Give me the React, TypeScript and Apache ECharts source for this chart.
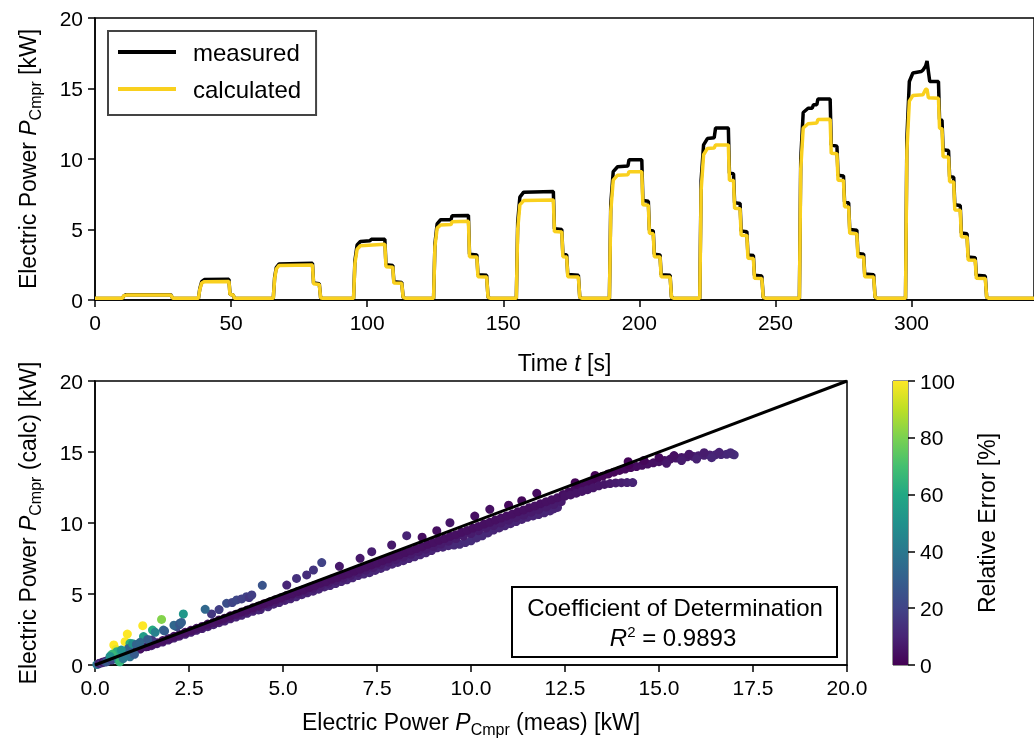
import React, { useEffect, useRef } from "react";
import * as echarts from "echarts";

const FONT = "'Liberation Sans', Arial, Helvetica, sans-serif";

// Time series: [time s, power kW]
const measured: [number, number][] = [
  [0, 0.1], [10, 0.1], [10.6, 0.3], [11.5, 0.38], [27.8, 0.38], [28.6, 0.1],
  [38, 0.1], [38.5, 0.8], [39.2, 1.3], [40.2, 1.45], [49.2, 1.47], [49.6, 0.4], [50.8, 0.35], [51.2, 0.1],
  [65.5, 0.1], [66.0, 1.6], [66.6, 2.3], [67.6, 2.55], [79.9, 2.6], [80.3, 1.2], [82.4, 1.15], [82.9, 0.15], [83.6, 0.1],
  [95, 0.1], [95.5, 2.8], [96.3, 3.9], [97.5, 4.15], [101, 4.2], [101.5, 4.3], [106.5, 4.3], [106.9, 2.5], [109.4, 2.45], [109.8, 1.3], [112.7, 1.25], [113.2, 0.2], [114, 0.1],
  [124.4, 0.1], [124.9, 4.0], [125.7, 5.4], [127, 5.7], [130.8, 5.7], [131.2, 5.98], [137.2, 6.0], [137.6, 3.25], [140.3, 3.2], [140.7, 1.8], [143.9, 1.75], [144.4, 0.2], [145.2, 0.1],
  [154.8, 0.1], [155.3, 5.5], [156.1, 7.3], [157.5, 7.65], [168.4, 7.7], [168.8, 5.05], [171.5, 5.0], [171.9, 3.25], [173.3, 3.2], [173.7, 1.8], [177.6, 1.75], [178.1, 0.2], [178.9, 0.1],
  [189, 0.1], [189.5, 6.8], [190.4, 9.1], [192, 9.45], [195.8, 9.5], [196.2, 9.95], [200.9, 9.95], [201.3, 7.05], [203.3, 7.0], [203.7, 4.95], [205.1, 4.9], [205.5, 3.25], [207.6, 3.2], [208, 1.8], [211.3, 1.75], [211.8, 0.2], [212.6, 0.1],
  [222.2, 0.1], [222.7, 8.5], [223.6, 11.0], [225, 11.45], [227.5, 11.5], [228, 12.2], [232.7, 12.2], [233.1, 9.0], [234.6, 8.95], [235, 6.9], [237, 6.85], [237.4, 4.9], [239.5, 4.85], [239.9, 3.2], [241.9, 3.15], [242.3, 1.75], [245, 1.7], [245.5, 0.2], [246.3, 0.1],
  [258.8, 0.1], [259.3, 10], [260.2, 13.3], [262, 13.6], [263.5, 13.6], [264, 13.85], [265.2, 13.85], [265.6, 14.25], [270.1, 14.25], [270.5, 11.0], [272.6, 10.9], [273, 8.85], [275, 8.8], [275.4, 6.95], [276.9, 6.9], [277.3, 5.0], [279.9, 4.95], [280.3, 3.3], [282.4, 3.25], [282.8, 1.85], [286.1, 1.8], [286.6, 0.2], [287.6, 0.1],
  [297.8, 0.1], [298.3, 11.5], [299.2, 15.5], [300.5, 16.1], [303.5, 16.2], [304.2, 16.3], [305.2, 16.6], [305.7, 16.95], [306.2, 16.2], [306.7, 15.5], [309.9, 15.5], [310.3, 12.8], [311.2, 12.75], [311.6, 10.65], [313.6, 10.6], [314, 8.75], [315.5, 8.7], [315.9, 6.75], [317.9, 6.7], [318.3, 4.75], [320.4, 4.7], [320.8, 3.05], [323.4, 3.0], [323.8, 1.75], [327.1, 1.7], [327.6, 0.2], [328.5, 0.1], [345, 0.1],
];

const calculated: [number, number][] = [
  [0, 0.12], [10, 0.12], [10.6, 0.3], [11.5, 0.35], [27.8, 0.35], [28.6, 0.12],
  [38, 0.12], [38.5, 0.75], [39.2, 1.2], [40.2, 1.3], [49.2, 1.32], [49.6, 0.4], [50.8, 0.35], [51.2, 0.12],
  [65.5, 0.12], [66.0, 1.5], [66.6, 2.2], [67.6, 2.45], [79.9, 2.48], [80.3, 1.15], [82.4, 1.1], [82.9, 0.15], [83.6, 0.12],
  [95, 0.12], [95.5, 2.6], [96.3, 3.6], [97.5, 3.85], [106.5, 3.95], [106.9, 2.36], [109.4, 2.33], [109.8, 1.2], [112.7, 1.18], [113.2, 0.2], [114, 0.12],
  [124.4, 0.12], [124.9, 3.8], [125.7, 5.1], [127, 5.32], [130.8, 5.35], [131.2, 5.55], [137.2, 5.58], [137.6, 3.07], [140.3, 3.05], [140.7, 1.65], [143.9, 1.63], [144.4, 0.2], [145.2, 0.12],
  [154.8, 0.12], [155.3, 5.0], [156.1, 6.75], [157.5, 7.05], [168.4, 7.1], [168.8, 4.85], [171.5, 4.83], [171.9, 3.07], [173.3, 3.05], [173.7, 1.65], [177.6, 1.63], [178.1, 0.2], [178.9, 0.12],
  [189, 0.12], [189.5, 6.3], [190.4, 8.5], [192, 8.85], [195.8, 8.88], [196.2, 9.1], [200.9, 9.1], [201.3, 6.75], [203.3, 6.72], [203.7, 4.73], [205.1, 4.7], [205.5, 3.07], [207.6, 3.05], [208, 1.65], [211.3, 1.63], [211.8, 0.2], [212.6, 0.12],
  [222.2, 0.12], [222.7, 7.8], [223.6, 10.3], [225, 10.75], [227.5, 10.78], [228, 11.0], [232.7, 11.0], [233.1, 8.5], [234.6, 8.48], [235, 6.5], [237, 6.48], [237.4, 4.6], [239.5, 4.58], [239.9, 2.96], [241.9, 2.94], [242.3, 1.54], [245, 1.52], [245.5, 0.2], [246.3, 0.12],
  [258.8, 0.12], [259.3, 9.3], [260.2, 12.2], [262, 12.5], [265.2, 12.55], [265.6, 12.8], [270.1, 12.82], [270.5, 10.4], [272.6, 10.38], [273, 8.5], [275, 8.48], [275.4, 6.62], [276.9, 6.6], [277.3, 4.73], [279.9, 4.7], [280.3, 3.07], [282.4, 3.05], [282.8, 1.65], [286.1, 1.63], [286.6, 0.2], [287.6, 0.12],
  [297.8, 0.12], [298.3, 10.6], [299.2, 14.1], [300.5, 14.5], [304.2, 14.55], [305.2, 14.95], [305.7, 14.95], [306.2, 14.35], [309.9, 14.3], [310.3, 12.18], [311.2, 12.15], [311.6, 10.16], [313.6, 10.14], [314, 8.39], [315.5, 8.37], [315.9, 6.38], [317.9, 6.36], [318.3, 4.49], [320.4, 4.47], [320.8, 2.84], [323.4, 2.82], [323.8, 1.54], [327.1, 1.52], [327.6, 0.2], [328.5, 0.12], [345, 0.12],
];

// Scatter: [measured kW, calculated kW]
const lowBand: [number, number][] = [
  [0.05, 0.03], [0.1, 0.08], [0.12, 0.13], [0.18, 0.15], [0.22, 0.21], [0.26, 0.22], [0.3, 0.28], [0.34, 0.3], [0.38, 0.36], [0.42, 0.38],
  [0.46, 0.45], [0.5, 0.46], [0.55, 0.52], [0.6, 0.55], [0.65, 0.62], [0.7, 0.66], [0.75, 0.72], [0.8, 0.76], [0.86, 0.82], [0.92, 0.88], [0.98, 0.94],
  [0.3, 0.22], [0.45, 0.36], [0.6, 0.48], [0.75, 0.62], [0.9, 0.76], [1.0, 0.86],
];
const lowOutliers: [number, number][] = [
  [0.5, 1.41], [0.56, 1.1], [0.8, 1.64], [0.86, 2.18], [1.27, 2.77], [1.77, 3.21], [2.35, 3.59], [2.93, 3.92], [0.93, 1.53], [0.89, 1.17],
  [0.62, 0.35], [0.66, 0.23], [0.93, 0.58], [0.58, 0.94], [1.53, 2.46], [1.29, 2.0], [1.82, 2.46], [2.26, 2.94], [2.17, 2.7], [1.51, 1.76],
  [0.45, 0.75], [0.7, 1.05], [1.0, 1.5], [1.1, 1.45], [1.6, 2.3], [1.85, 2.4], [2.1, 2.8], [2.25, 2.85], [2.3, 3.0], [0.4, 0.6],
  [0.75, 0.45], [1.05, 0.75], [1.2, 1.6], [1.4, 1.8],
];
const upperOutliers: [number, number][] = [
  [3.5, 4.34], [3.65, 4.4], [3.77, 4.58], [3.9, 4.65], [4.03, 4.81], [4.1, 4.75], [4.17, 4.93], [4.45, 5.61], [3.3, 3.9], [3.1, 3.6],
  [5.1, 5.63], [5.36, 6.1], [5.63, 6.34], [5.81, 6.69], [6.03, 7.21], [6.5, 6.95], [7.05, 7.51], [7.36, 7.98], [7.89, 8.45], [8.29, 9.11],
  [8.7, 9.0], [9.09, 9.46], [9.44, 10.02], [10.1, 10.49], [10.5, 10.96], [11.0, 11.25], [11.35, 11.57], [11.75, 12.09], [12.77, 12.84], [14.18, 14.32], [13.3, 13.35],
];
const bandUpper: [number, number][] = [
  [1.05, 1.0], [1.2, 1.15], [1.35, 1.28], [1.5, 1.44], [1.65, 1.57], [1.8, 1.72], [1.95, 1.85], [2.1, 2.02], [2.25, 2.14], [2.4, 2.3],
  [2.55, 2.44], [2.7, 2.58], [2.85, 2.72], [3.0, 2.88], [3.15, 3.0], [3.3, 3.17], [3.45, 3.3], [3.6, 3.46], [3.75, 3.58], [3.9, 3.74],
  [4.05, 3.88], [4.2, 4.03], [4.35, 4.16], [4.5, 4.32], [4.65, 4.45], [4.8, 4.6], [4.95, 4.74], [5.1, 4.9], [5.25, 5.02], [5.4, 5.18],
  [5.55, 5.3], [5.7, 5.47], [5.85, 5.6], [6.0, 5.76], [6.15, 5.88], [6.3, 6.05], [6.45, 6.17], [6.6, 6.34], [6.75, 6.46], [6.9, 6.62],
  [7.05, 6.75], [7.2, 6.9], [7.35, 7.05], [7.5, 7.18], [7.65, 7.35], [7.8, 7.48], [7.95, 7.63], [8.1, 7.76], [8.25, 7.92], [8.4, 8.05],
  [8.55, 8.2], [8.7, 8.33], [8.85, 8.5], [9.0, 8.62], [9.15, 8.78], [9.3, 8.9], [9.45, 9.06], [9.6, 9.18], [9.75, 9.35], [9.9, 9.48],
  [10.05, 9.64], [10.2, 9.76], [10.35, 9.93], [10.5, 10.05], [10.65, 10.22], [10.8, 10.35], [10.95, 10.5], [11.1, 10.63], [11.25, 10.8], [11.4, 10.92],
  [11.55, 11.08], [11.7, 11.2], [11.85, 11.36], [12.0, 11.5], [12.15, 11.64], [12.3, 11.78],
];
const bandMiddle: [number, number][] = [
  [1.2, 1.12], [1.4, 1.3], [1.6, 1.5], [1.8, 1.68], [2.0, 1.86], [2.2, 2.04], [2.4, 2.24], [2.6, 2.42], [2.8, 2.6], [3.0, 2.8],
  [3.2, 2.98], [3.4, 3.16], [3.6, 3.35], [3.8, 3.52], [4.0, 3.72], [4.2, 3.9], [4.4, 4.08], [4.6, 4.28], [4.8, 4.46], [5.0, 4.64],
  [5.2, 4.84], [5.4, 5.02], [5.6, 5.2], [5.8, 5.4], [6.0, 5.56], [6.2, 5.76], [6.4, 5.94], [6.6, 6.12], [6.8, 6.32], [7.0, 6.5],
  [7.2, 6.68], [7.4, 6.86], [7.6, 7.06], [7.8, 7.24], [8.0, 7.42], [8.2, 7.6], [8.4, 7.8], [8.6, 7.98], [8.8, 8.16], [9.0, 8.34],
  [9.2, 8.52], [9.4, 8.72], [9.6, 8.9], [9.8, 9.08], [10.0, 9.26], [10.2, 9.46], [10.4, 9.64], [10.6, 9.82], [10.8, 10.0], [11.0, 10.2],
  [11.2, 10.38], [11.4, 10.56], [11.6, 10.76], [11.8, 10.94], [12.0, 11.12], [12.2, 11.3], [12.4, 11.5],
];
const bandLower: [number, number][] = [
  [1.5, 1.36], [1.8, 1.62], [2.1, 1.9], [2.4, 2.16], [2.7, 2.44], [3.0, 2.7], [3.3, 2.98], [3.6, 3.25], [3.9, 3.5], [4.2, 3.78],
  [4.4, 3.9], [4.6, 4.1], [4.9, 4.4], [5.2, 4.66], [5.5, 4.95], [5.8, 5.2], [6.1, 5.5], [6.4, 5.74], [6.7, 6.0], [7.0, 6.3],
  [7.3, 6.5], [7.6, 6.8], [7.9, 7.1], [8.2, 7.35], [8.5, 7.62], [8.8, 7.9], [9.1, 8.25], [9.4, 8.4], [9.7, 8.5], [10.0, 8.75],
  [10.3, 9.1], [10.6, 9.5], [10.9, 9.8], [11.2, 10.1], [11.5, 10.4], [11.8, 10.6], [12.1, 10.85], [12.3, 11.1], [11.4, 10.6], [12.0, 11.2],
  [1.65, 1.5], [1.95, 1.76], [2.25, 2.04], [2.55, 2.3], [2.85, 2.57], [3.15, 2.84], [3.45, 3.1], [3.75, 3.38], [4.05, 3.64], [4.35, 3.88],
  [4.75, 4.28], [5.05, 4.55], [5.35, 4.8], [5.65, 5.08], [5.95, 5.34], [6.25, 5.6], [6.55, 5.88], [6.85, 6.14], [7.15, 6.4], [7.45, 6.66],
  [7.75, 6.95], [8.05, 7.22], [8.35, 7.5], [8.65, 7.76], [8.95, 8.06], [9.25, 8.3], [9.55, 8.45], [9.85, 8.62], [10.15, 8.95], [10.45, 9.3],
  [10.75, 9.65], [11.05, 9.95], [11.35, 10.25], [11.65, 10.5], [11.95, 10.72], [12.2, 11.0],
];
const upperArm: [number, number][] = [
  [12.45, 12.0], [12.6, 12.18], [12.75, 12.35], [12.9, 12.55], [13.05, 12.72], [13.2, 12.9], [13.35, 13.1], [13.5, 13.3], [13.65, 13.45], [13.8, 13.58],
  [13.95, 13.7], [14.1, 13.8], [14.25, 13.9], [14.4, 13.98], [14.55, 14.06], [14.7, 14.15], [14.85, 14.24], [15.0, 14.32], [15.15, 14.4], [15.3, 14.5],
  [15.45, 14.57], [15.6, 14.62], [15.75, 14.66], [15.9, 14.7], [16.05, 14.74], [16.2, 14.77], [16.35, 14.79], [16.5, 14.8], [16.65, 14.82], [16.8, 14.84],
  [16.95, 14.86], [17.0, 14.8],
  [15.0, 14.6], [15.4, 14.75], [15.8, 14.85], [16.2, 14.95], [16.6, 14.98], [16.9, 14.95], [14.6, 14.4], [14.2, 14.1], [15.2, 14.2], [15.6, 14.4], [16.0, 14.5], [16.4, 14.6],
];
const lowerArm: [number, number][] = [
  [12.5, 11.9], [12.65, 11.98], [12.8, 12.1], [12.95, 12.22], [13.1, 12.35], [13.25, 12.48], [13.4, 12.62], [13.55, 12.72], [13.7, 12.78], [13.85, 12.82],
  [14.0, 12.84], [14.15, 12.85], [14.3, 12.85],
];

const identityLine: [number, number][] = [[0, 0], [20, 20]];
const colorbarValue = [100];
const viridis = ["#440154", "#482475", "#414487", "#355f8d", "#2a788e", "#21918c", "#22a884", "#44bf70", "#7ad151", "#bddf26", "#fde725"];
const r2Text = "0.9893";

export default function App() {
  const ref = useRef<HTMLDivElement>(null);
  useEffect(() => {
    const chart = echarts.init(ref.current!, null, { renderer: "svg" });
    const pairs = [...bandLower, ...bandMiddle, ...bandUpper, ...lowBand, ...upperArm, ...lowerArm, ...upperOutliers, ...lowOutliers];
    const scatterData = pairs.map(([m, c]) => [m, c, Math.min(100, (Math.abs(c - m) / m) * 100)]);

    const rich = {
      n: { fontSize: 23, fontFamily: FONT, color: "#000", lineHeight: 30 },
      i: { fontSize: 23, fontFamily: FONT, color: "#000", fontStyle: "italic", lineHeight: 30 },
      s: { fontSize: 16, fontFamily: FONT, color: "#000", verticalAlign: "bottom", lineHeight: 14 },
    };
    const axisCommon = {
      axisLine: { show: true, lineStyle: { color: "#000", width: 1.5 } },
      axisTick: { show: true, length: 7, lineStyle: { color: "#000", width: 1.5 } },
      axisLabel: { fontSize: 21, color: "#000", fontFamily: FONT, margin: 12 },
      splitLine: { show: false },
      nameLocation: "middle",
      nameTextStyle: { fontSize: 23, color: "#000", fontFamily: FONT, rich },
    };
    const gradStops = viridis.map((c, i) => ({ offset: i / (viridis.length - 1), color: c }));

    chart.setOption({
      animation: false,
      textStyle: { fontFamily: FONT },
      grid: [
        { left: 95, right: 0, top: 18, height: 282, show: true, borderColor: "#000", borderWidth: 1.5 },
        { left: 95, width: 752, top: 381, height: 284, show: true, borderColor: "#000", borderWidth: 1.5 },
        { left: 893, width: 15, top: 381, height: 284, show: true, borderColor: "#222", borderWidth: 1 },
      ],
      xAxis: [
        {
          ...axisCommon, gridIndex: 0, type: "value", min: 0, max: 345, interval: 50,
          axisLabel: { ...axisCommon.axisLabel, showMaxLabel: false },
          name: "{n|Time }{i|t}{n| [s]}", nameGap: 48,
        },
        {
          ...axisCommon, gridIndex: 1, type: "value", min: 0, max: 20, interval: 2.5,
          axisLabel: { ...axisCommon.axisLabel, formatter: (v: number) => v.toFixed(1) },
          name: "{n|Electric Power }{i|P}{s|Cmpr}{n| (meas) [kW]}", nameGap: 42,
        },
        { gridIndex: 2, type: "category", data: ["c"], show: false },
      ],
      yAxis: [
        {
          ...axisCommon, gridIndex: 0, type: "value", min: 0, max: 20, interval: 5,
          nameRotate: 90, name: "{n|Electric Power }{i|P}{s|Cmpr}{n| [kW]}", nameGap: 52,
        },
        {
          ...axisCommon, gridIndex: 1, type: "value", min: 0, max: 20, interval: 5,
          nameRotate: 90, name: "{n|Electric Power }{i|P}{s|Cmpr}{n| (calc) [kW]}", nameGap: 52,
        },
        {
          ...axisCommon, gridIndex: 2, type: "value", min: 0, max: 100, interval: 20, position: "right",
          axisLine: { show: false },
          nameRotate: 90, name: "Relative Error [%]", nameGap: 67,
        },
      ],
      legend: {
        data: ["measured", "calculated"],
        orient: "vertical",
        left: 108,
        top: 31,
        padding: [9, 15, 14, 10],
        itemGap: 13,
        itemWidth: 58,
        itemHeight: 4,
        icon: "rect",
        borderColor: "#444",
        borderWidth: 2,
        backgroundColor: "#fff",
        textStyle: { fontSize: 24, color: "#000", fontFamily: FONT, lineHeight: 24, padding: [0, 0, 0, 12] },
      },
      visualMap: {
        show: false, type: "continuous", seriesIndex: 2, dimension: 2, min: 0, max: 100,
        inRange: { color: viridis },
      },
      series: [
        {
          type: "line", name: "measured", xAxisIndex: 0, yAxisIndex: 0, data: measured, symbol: "none",
          lineStyle: { color: "#000", width: 3.5 }, itemStyle: { color: "#000" },
        },
        {
          type: "line", name: "calculated", xAxisIndex: 0, yAxisIndex: 0, data: calculated, symbol: "none",
          lineStyle: { color: "#f9d01e", width: 3.5 }, itemStyle: { color: "#f9d01e" },
        },
        {
          type: "scatter", xAxisIndex: 1, yAxisIndex: 1, data: scatterData, symbolSize: 9,
          itemStyle: { opacity: 1 },
        },
        {
          type: "line", xAxisIndex: 1, yAxisIndex: 1, data: identityLine, symbol: "none", silent: true,
          lineStyle: { color: "#000", width: 3 }, z: 5,
        },
        {
          type: "bar", xAxisIndex: 2, yAxisIndex: 2, data: colorbarValue, barWidth: "100%", silent: true,
          itemStyle: { color: new echarts.graphic.LinearGradient(0, 1, 0, 0, gradStops) },
        },
      ],
      graphic: [
        {
          type: "rect", z: 100, shape: { x: 512, y: 587, width: 325, height: 70 },
          style: { fill: "#fff", stroke: "#000", lineWidth: 2 },
        },
        {
          type: "text", z: 101, x: 675, y: 607,
          style: { text: "Coefficient of Determination", fontSize: 24, fontFamily: FONT, fill: "#000", align: "center", verticalAlign: "middle" },
        },
        {
          type: "text", z: 101, x: 673, y: 637,
          style: {
            text: "{i|R}{sup|2}{n| = " + r2Text + "}",
            align: "center", verticalAlign: "middle",
            rich: {
              i: { fontSize: 24, fontFamily: FONT, fontStyle: "italic", fill: "#000", lineHeight: 26 },
              n: { fontSize: 24, fontFamily: FONT, fill: "#000", lineHeight: 26 },
              sup: { fontSize: 15, fontFamily: FONT, fill: "#000", verticalAlign: "top", lineHeight: 12 },
            },
          },
        },
      ],
    });
    return () => chart.dispose();
  }, []);
  return <div ref={ref} style={{ position: "fixed", left: 0, top: 0, width: 1034, height: 744 }} />;
}
